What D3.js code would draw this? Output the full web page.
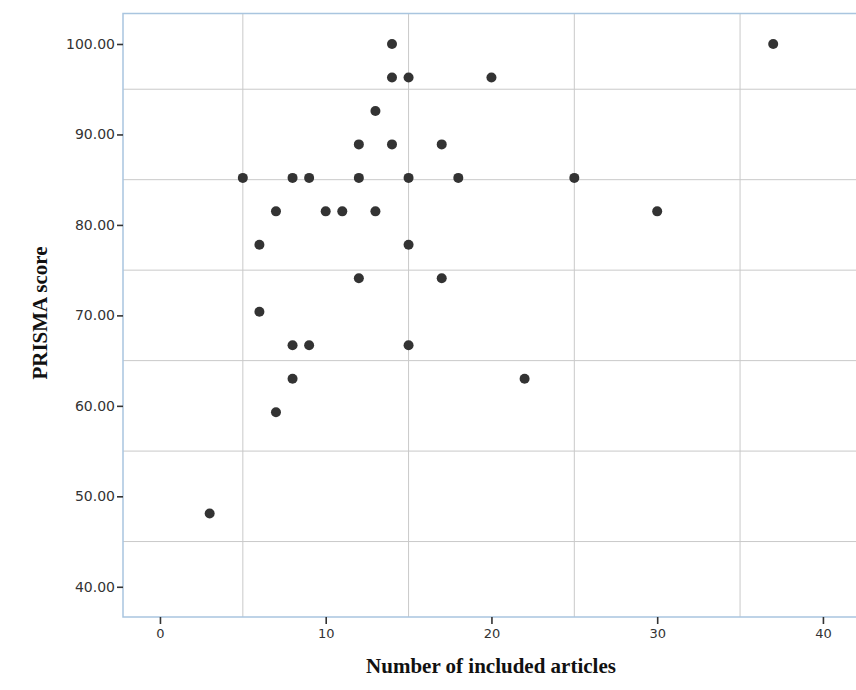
<!DOCTYPE html>
<html lang="en">
<head>
<meta charset="UTF-8">
<title>PRISMA score vs number of included articles</title>
<script src="https://cdnjs.cloudflare.com/ajax/libs/d3/7.8.5/d3.min.js"></script>
<style>
    body { margin: 0; background: #fff; }
    svg { display: block; }
    .tick-label { font-family: "DejaVu Sans", Verdana, sans-serif; font-size: 13px; fill: #333; }
    .y-label { font-size: 14px; }
    .axis-title { font-family: "Liberation Serif", "Times New Roman", serif; font-size: 21px; font-weight: bold; fill: #111; }
</style>
</head>
<body>
<svg width="856" height="690"></svg>
<script>
    // number of included articles per review
    const articles = [3, 5, 6, 6, 7, 7, 8, 8, 8, 9, 9, 10, 11, 12, 12, 12, 13, 13,
                      14, 14, 14, 15, 15, 15, 15, 17, 17, 18, 20, 22, 25, 30, 37];
    // PRISMA score (%) for the same reviews
    const prisma = [48.1, 85.2, 77.8, 70.4, 81.5, 59.3, 85.2, 66.7, 63.0, 85.2, 66.7, 81.5, 81.5, 88.9, 85.2, 74.1, 92.6, 81.5,
                    100, 96.3, 88.9, 96.3, 85.2, 77.8, 66.7, 88.9, 74.1, 85.2, 96.3, 63.0, 85.2, 81.5, 100];

    const xTicks = [0, 10, 20, 30, 40];
    const xGrid = [5, 15, 25, 35];
    const yTicks = [40, 50, 60, 70, 80, 90, 100];
    const yGrid = [45, 55, 65, 75, 85, 95];

    const svg = d3.select("svg");
    const plotLeft = 123, plotRight = 870, plotTop = 13.5, plotBottom = 617;

    const x = d3.scaleLinear().domain([-2.23, 42.84]).range([plotLeft, plotRight]);
    const y = d3.scaleLinear().domain([36.66, 103.37]).range([plotBottom, plotTop]);

    // grid
    svg.selectAll(".vgrid").data(xGrid).enter().append("line")
        .attr("x1", d => x(d)).attr("x2", d => x(d))
        .attr("y1", plotTop).attr("y2", plotBottom)
        .attr("stroke", "#c9c9c9").attr("stroke-width", 1);
    svg.selectAll(".hgrid").data(yGrid).enter().append("line")
        .attr("x1", plotLeft).attr("x2", plotRight)
        .attr("y1", d => y(d)).attr("y2", d => y(d))
        .attr("stroke", "#c9c9c9").attr("stroke-width", 1);

    // frame
    svg.append("path")
        .attr("d", `M${plotRight},${plotTop}H${plotLeft}V${plotBottom}H${plotRight}`)
        .attr("fill", "none").attr("stroke", "#a9c5df").attr("stroke-width", 1.5);

    // y axis
    const yAxis = d3.axisLeft(y).tickValues(yTicks).tickSize(6).tickPadding(2)
        .tickFormat(d3.format(".2f"));
    const gy = svg.append("g").attr("transform", `translate(${plotLeft},0)`).call(yAxis);
    gy.select(".domain").remove();
    gy.selectAll(".tick line").attr("stroke", "#333").attr("stroke-width", 1.6);
    gy.selectAll(".tick text").attr("class", "tick-label y-label").attr("fill", null);

    // x axis
    const xAxis = d3.axisBottom(x).tickValues(xTicks).tickSize(7).tickPadding(5);
    const gx = svg.append("g").attr("transform", `translate(0,${plotBottom})`).call(xAxis);
    gx.select(".domain").remove();
    gx.selectAll(".tick line").attr("stroke", "#333").attr("stroke-width", 1.6);
    gx.selectAll(".tick text").attr("class", "tick-label").attr("fill", null);

    // points
    svg.selectAll(".dot").data(articles).enter().append("circle")
        .attr("cx", d => x(d))
        .attr("cy", (d, i) => y(prisma[i]))
        .attr("r", 5)
        .attr("fill", "#333");

    // titles
    svg.append("text").attr("class", "axis-title")
        .attr("x", 491).attr("y", 673)
        .attr("text-anchor", "middle")
        .text("Number of included articles");
    svg.append("text").attr("class", "axis-title")
        .attr("transform", "translate(47,313) rotate(-90)")
        .attr("text-anchor", "middle")
        .text("PRISMA score");
</script>
</body>
</html>
